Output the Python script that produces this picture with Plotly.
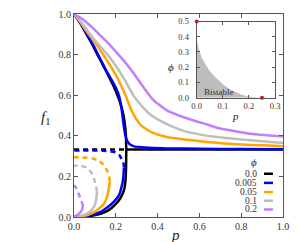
import plotly.graph_objects as go

# ---------------- data ----------------
phi_labels = ["0.0", "0.005", "0.05", "0.1", "0.2"]
phi_colors = ["#000000", "#0000ff", "#ffa500", "#bebebe", "#bf80ff"]

# phi = 0.0
p0_up = [0.0, 0.03, 0.06, 0.09, 0.112, 0.14, 0.17, 0.19, 0.208, 0.225, 0.236, 0.243, 0.248, 0.25]
f0_up = [1.0, 0.955, 0.9, 0.845, 0.8, 0.745, 0.685, 0.643, 0.6, 0.55, 0.505, 0.46, 0.41, 0.333]
p0_flat = [0.25, 1.0]
f0_flat = [0.333, 0.333]
p0_lo = [0.0, 0.05, 0.096, 0.13, 0.16, 0.184, 0.205, 0.22, 0.232, 0.241, 0.246, 0.249, 0.25]
f0_lo = [0.0, 0.002, 0.008, 0.017, 0.03, 0.048, 0.07, 0.09, 0.113, 0.14, 0.177, 0.24, 0.333]
p0_un = [0.0, 0.25]
f0_un = [0.333, 0.333]

# phi = 0.005
p1_up = [0.0, 0.03, 0.06, 0.09, 0.12, 0.15, 0.18, 0.2, 0.216, 0.228, 0.238, 0.246, 0.256,
         0.268, 0.288, 0.32, 0.36, 0.45, 0.6, 0.8, 1.0]
f1_up = [1.0, 0.957, 0.905, 0.85, 0.79, 0.73, 0.675, 0.638, 0.595, 0.53, 0.45, 0.4, 0.372,
         0.357, 0.348, 0.344, 0.341, 0.338, 0.336, 0.335, 0.334]
p1_lo = [0.0, 0.05, 0.096, 0.13, 0.16, 0.19, 0.208, 0.218, 0.228, 0.234, 0.237, 0.239]
f1_lo = [0.0, 0.004, 0.014, 0.027, 0.048, 0.075, 0.096, 0.115, 0.15, 0.18, 0.21, 0.245]
p1_un = [0.239, 0.237, 0.229, 0.217, 0.2, 0.189, 0.141, 0.07, 0.0]
f1_un = [0.245, 0.262, 0.283, 0.305, 0.317, 0.321, 0.326, 0.328, 0.328]

# phi = 0.05
p2_up = [0.0, 0.03, 0.06, 0.1, 0.14, 0.2, 0.225, 0.248, 0.27, 0.295, 0.32, 0.35, 0.384,
         0.43, 0.464, 0.53, 0.65, 0.8, 1.0]
f2_up = [1.0, 0.96, 0.915, 0.86, 0.8, 0.7, 0.648, 0.596, 0.537, 0.487, 0.453, 0.43, 0.412,
         0.398, 0.39, 0.382, 0.368, 0.357, 0.349]
p2_lo = [0.0, 0.04, 0.07, 0.096, 0.12, 0.144, 0.16, 0.168, 0.171]
f2_lo = [0.0, 0.004, 0.012, 0.024, 0.042, 0.065, 0.105, 0.15, 0.175]
p2_un = [0.171, 0.168, 0.16, 0.15, 0.135, 0.112, 0.09, 0.064, 0.03, 0.0]
f2_un = [0.175, 0.2, 0.225, 0.243, 0.264, 0.28, 0.288, 0.292, 0.294, 0.294]

# phi = 0.1
p3_up = [0.0, 0.03, 0.06, 0.1, 0.16, 0.2, 0.24, 0.264, 0.285, 0.304, 0.33, 0.352, 0.38,
         0.416, 0.46, 0.528, 0.6, 0.684, 0.844, 1.0]
f3_up = [1.0, 0.965, 0.925, 0.87, 0.8, 0.745, 0.68, 0.636, 0.598, 0.571, 0.54, 0.516, 0.494,
         0.472, 0.45, 0.423, 0.407, 0.394, 0.378, 0.365]
p3_lo = [0.0, 0.03, 0.064, 0.085, 0.098, 0.106, 0.11]
f3_lo = [0.0, 0.005, 0.018, 0.035, 0.055, 0.085, 0.125]
p3_un = [0.11, 0.106, 0.097, 0.088, 0.072, 0.056, 0.035, 0.015, 0.0]
f3_un = [0.125, 0.15, 0.185, 0.21, 0.232, 0.244, 0.251, 0.253, 0.253]

# phi = 0.2
p4_up = [0.0, 0.04, 0.08, 0.12, 0.16, 0.2, 0.24, 0.28, 0.328, 0.365, 0.384, 0.42, 0.448,
         0.49, 0.528, 0.58, 0.62, 0.684, 0.764, 0.844, 0.92, 1.0]
f4_up = [1.0, 0.975, 0.94, 0.9, 0.86, 0.815, 0.768, 0.715, 0.645, 0.594, 0.572, 0.543, 0.523,
         0.505, 0.49, 0.473, 0.461, 0.44, 0.424, 0.41, 0.403, 0.397]
p4_lo = [0.0, 0.013, 0.025, 0.037, 0.043]
f4_lo = [0.0, 0.008, 0.018, 0.032, 0.055]
p4_un = [0.043, 0.038, 0.032, 0.024, 0.016, 0.008, 0.0]
f4_un = [0.055, 0.072, 0.089, 0.11, 0.129, 0.147, 0.158]

# inset: bistable region boundary phi_c(p)
p_bound = [0.0, 0.0, 0.01, 0.02, 0.035, 0.05, 0.07, 0.09, 0.11, 0.13, 0.15, 0.17, 0.19, 0.21, 0.23, 0.25, 0.0]
phi_bound = [0.0, 0.38, 0.31, 0.26, 0.215, 0.175, 0.135, 0.103, 0.075, 0.053, 0.035, 0.02, 0.01, 0.004, 0.001, 0.0, 0.0]
p_marks = [0.0, 0.25]
phi_marks = [0.5, 0.0]

# ---------------- figure ----------------
FONT = "Liberation Serif"
AX = "#555555"
DASH = "5px,4px"

fig = go.Figure()


def add(x, y, color, dash="solid", shape="spline"):
    fig.add_trace(go.Scatter(
        x=x, y=y, mode="lines", hoverinfo="skip", showlegend=False,
        line=dict(color=color, width=2.5, dash=dash, shape=shape, smoothing=0.6)))


series = [
    (p0_up, f0_up, p0_lo, f0_lo, p0_un, f0_un),
    (p1_up, f1_up, p1_lo, f1_lo, p1_un, f1_un),
    (p2_up, f2_up, p2_lo, f2_lo, p2_un, f2_un),
    (p3_up, f3_up, p3_lo, f3_lo, p3_un, f3_un),
    (p4_up, f4_up, p4_lo, f4_lo, p4_un, f4_un),
]
for i, (pu, fu, pl, fl, pn, fn) in enumerate(series):
    c = phi_colors[i]
    add(pn, fn, c, DASH, "spline" if i else "linear")
    add(pl, fl, c)
    add(pu, fu, c)
    if i == 0:
        add(p0_flat, f0_flat, c, "solid", "linear")

# inset
fig.add_trace(go.Scatter(
    x=p_bound, y=phi_bound, mode="lines", fill="toself", fillcolor="#bdbdbd",
    line=dict(width=0, color="#bdbdbd"), xaxis="x2", yaxis="y2",
    hoverinfo="skip", showlegend=False))
fig.add_trace(go.Scatter(
    x=p_marks, y=phi_marks, mode="markers", marker=dict(color="#ff0000", size=4),
    xaxis="x2", yaxis="y2", cliponaxis=False, hoverinfo="skip", showlegend=False))

axis_common = dict(showline=True, linecolor=AX, linewidth=1, mirror="ticks",
                   ticks="inside", tickcolor=AX, showgrid=False, zeroline=False,
                   tickformat=".1f")

fig.update_layout(
    width=300, height=242,
    margin=dict(l=66, r=25, t=1, b=33),
    paper_bgcolor="white", plot_bgcolor="white",
    font=dict(family=FONT, size=10, color="#333333"),
    showlegend=False,
    xaxis=dict(range=[0, 1], tickvals=[0, 0.2, 0.4, 0.6, 0.8, 1.0], ticklen=4,
               tickfont=dict(family=FONT, size=10), **axis_common),
    yaxis=dict(range=[0, 1], tickvals=[0, 0.2, 0.4, 0.6, 0.8, 1.0], ticklen=4,
               tickfont=dict(family=FONT, size=10), **axis_common),
    xaxis2=dict(domain=[0.587, 0.962], anchor="y2", range=[0, 0.3],
                tickvals=[0, 0.1, 0.2, 0.3], ticklen=3, tickfont=dict(family=FONT, size=8.5),
                **axis_common),
    yaxis2=dict(domain=[0.588, 0.963], anchor="x2", range=[0, 0.5],
                tickvals=[0, 0.1, 0.2, 0.3, 0.4, 0.5], ticklen=3,
                tickfont=dict(family=FONT, size=8.5),
                ticklabelstandoff=5, **axis_common),
)

ann = [
    dict(text="<i>f</i><sub>1</sub>", x=-0.134, y=0.49, size=15),
    dict(text="<i>p</i>", x=0.488, y=-0.091, size=15),
    dict(text="<i>ϕ</i>", x=0.463, y=0.739, size=11),
    dict(text="<i>p</i>", x=0.775, y=0.5, size=11),
    dict(text="<i>ϕ</i>", x=0.863, y=0.273, size=11),
]
for a in ann:
    fig.add_annotation(text=a["text"], x=a["x"], y=a["y"], xref="paper", yref="paper",
                       showarrow=False, font=dict(family=FONT, size=a["size"], color="#222222"),
                       xanchor="center", yanchor="middle")

fig.add_annotation(text="Bistable", x=0.085, y=0.04, xref="x2", yref="y2", showarrow=False,
                   font=dict(family=FONT, size=9, color="#333333"))

# manual legend (label left, line sample right)
leg_y = [0.213, 0.168, 0.123, 0.080, 0.037]
for lab, col, yy in zip(phi_labels, phi_colors, leg_y):
    fig.add_annotation(text=lab, x=0.885, y=yy, xref="paper", yref="paper", showarrow=False,
                       xanchor="right", yanchor="middle",
                       font=dict(family=FONT, size=9.5, color="#333333"))
    fig.add_shape(type="line", xref="paper", yref="paper", x0=0.909, x1=0.952, y0=yy, y1=yy,
                  line=dict(color=col, width=2.5))

fig.write_html("out.html")
